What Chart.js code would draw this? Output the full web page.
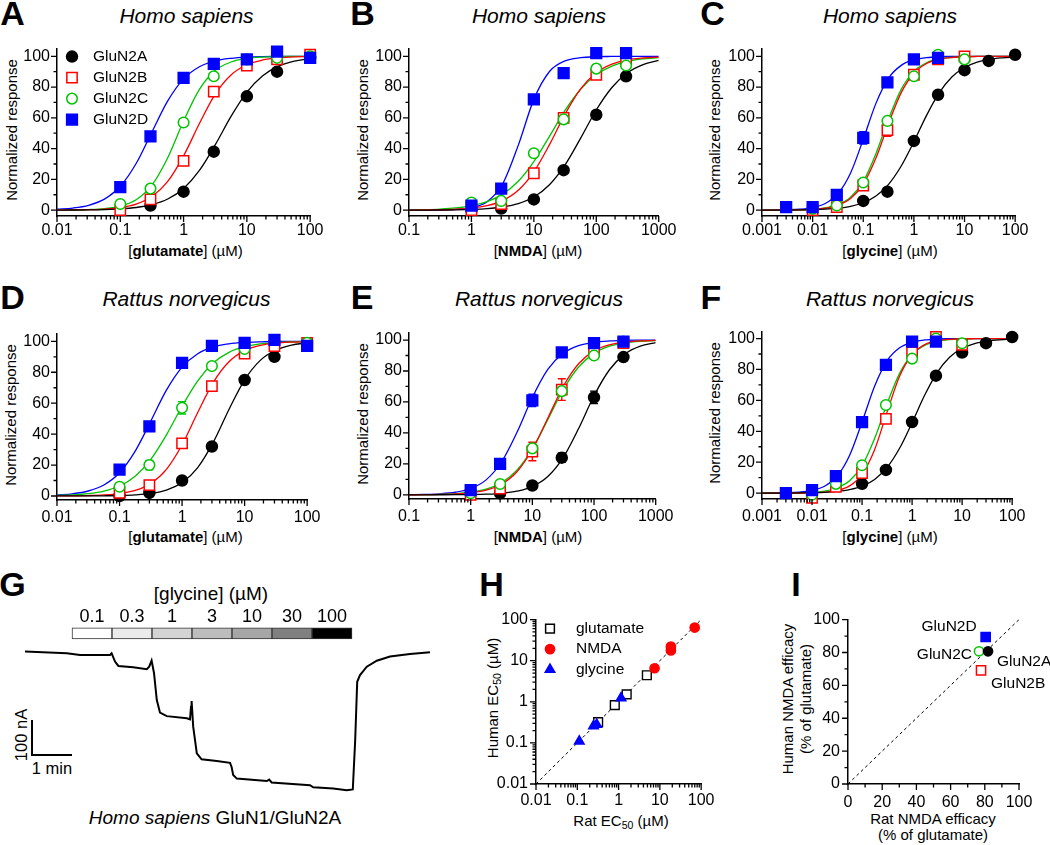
<!DOCTYPE html>
<html><head><meta charset="utf-8">
<script src="https://cdn.jsdelivr.net/npm/chart.js@4.4.1/dist/chart.umd.min.js"></script>
<style>
html,body{margin:0;padding:0;background:#fff;}
body{width:1050px;height:845px;position:relative;overflow:hidden;font-family:'Liberation Sans',Arial,Helvetica,sans-serif;color:#000;}
canvas{position:absolute;}
.t{position:absolute;white-space:nowrap;transform:translate(-50%,-50%);line-height:1;}
.r{transform:translate(-50%,-50%) rotate(-90deg);}
.L{font-weight:bold;font-size:34px;}
.sp{font-style:italic;font-size:21px;}
.ax{font-size:15px;}
sub{font-size:0.7em;vertical-align:-0.3em;line-height:0;}
</style></head><body>
<div class="t L" style="left:12.5px;top:13px">A</div>
<div class="t L" style="left:362.5px;top:13px">B</div>
<div class="t L" style="left:712.5px;top:13px">C</div>
<div class="t L" style="left:12.5px;top:297px">D</div>
<div class="t L" style="left:362px;top:297px">E</div>
<div class="t L" style="left:711px;top:297px">F</div>
<div class="t L" style="left:12.5px;top:584px">G</div>
<div class="t L" style="left:491.5px;top:584px">H</div>
<div class="t L" style="left:796px;top:584px">I</div>

<div class="t sp" style="left:186.5px;top:15px">Homo sapiens</div>
<div class="t sp" style="left:539px;top:15px">Homo sapiens</div>
<div class="t sp" style="left:890px;top:15px">Homo sapiens</div>
<div class="t sp" style="left:186.5px;top:298px">Rattus norvegicus</div>
<div class="t sp" style="left:539px;top:298px">Rattus norvegicus</div>
<div class="t sp" style="left:890px;top:298px">Rattus norvegicus</div>

<div class="t ax r" style="left:11px;top:130px">Normalized response</div>
<div class="t ax r" style="left:362px;top:130px">Normalized response</div>
<div class="t ax r" style="left:714px;top:130px">Normalized response</div>
<div class="t ax r" style="left:10px;top:415px">Normalized response</div>
<div class="t ax r" style="left:362px;top:414px">Normalized response</div>
<div class="t ax r" style="left:714px;top:413px">Normalized response</div>

<div class="t ax" style="left:185.5px;top:250px">[<b>glutamate</b>] (µM)</div>
<div class="t ax" style="left:538px;top:250px">[<b>NMDA</b>] (µM)</div>
<div class="t ax" style="left:890px;top:250px">[<b>glycine</b>] (µM)</div>
<div class="t ax" style="left:185.5px;top:536px">[<b>glutamate</b>] (µM)</div>
<div class="t ax" style="left:538px;top:536px">[<b>NMDA</b>] (µM)</div>
<div class="t ax" style="left:890px;top:536px">[<b>glycine</b>] (µM)</div>

<div class="t" style="left:211px;top:593px;font-size:19px">[glycine] (µM)</div>
<div class="t r" style="left:21px;top:735px;font-size:16.5px">100 nA</div>
<div class="t" style="left:52px;top:768px;font-size:16.5px">1 min</div>
<div class="t" style="left:215px;top:817px;font-size:19px"><i>Homo sapiens</i> GluN1/GluN2A</div>

<div class="t ax r" style="left:492px;top:698px">Human EC<sub>50</sub> (µM)</div>
<div class="t ax" style="left:621px;top:820px">Rat EC<sub>50</sub> (µM)</div>
<div class="t ax r" style="left:797px;top:699px;line-height:18px;text-align:center">Human NMDA efficacy<br>(% of glutamate)</div>
<div class="t ax" style="left:933px;top:827px;line-height:16px;text-align:center">Rat NMDA efficacy<br>(% of glutamate)</div>

<script>
// ================= DATA =================
const subunits = ['GluN2A','GluN2B','GluN2C','GluN2D'];

// tick values / labels
const decGluV = [0.01,0.1,1,10,100];      const decGluL = ['0.01','0.1','1','10','100'];
const decNmdaV = [0.1,1,10,100,1000];     const decNmdaL = ['0.1','1','10','100','1000'];
const decGlyV = [0.001,0.01,0.1,1,10,100];const decGlyL = ['0.001','0.01','0.1','1','10','100'];
const respV = [0,20,40,60,80,100];        const respL = ['0','20','40','60','80','100'];
const respMinor = [10,30,50,70,90];
const ecV = [0.01,0.1,1,10,100];          const ecL = ['0.01','0.1','1','10','100'];
const effV = [0,20,40,60,80,100];         const effL = ['0','20','40','60','80','100'];
const effMinor = [10,30,50,70,90];

// concentrations at which fitted curves were read (µM)
const gridGlu = [0.01,0.0178,0.0316,0.0562,0.1,0.178,0.316,0.562,1,1.78,3.16,5.62,10,17.8,31.6,56.2,100];
const gridNmda = [0.1,0.178,0.316,0.562,1,1.78,3.16,5.62,10,17.8,31.6,56.2,100,178,316,562,1000];
const gridGly = [0.001,0.00178,0.00316,0.00562,0.01,0.0178,0.0316,0.0562,0.1,0.178,0.316,0.562,1,1.78,3.16,5.62,10,17.8,31.6,56.2,100];

// ---- Panel A: human, glutamate ----
const aX2A=[0.3,1,3,10,30,100];          const aY2A=[3,12,38,74,90,99];
const aX2B=[0.1,0.3,1,3,10,30,100];      const aY2B=[0,7,32,77,94,98,101];
const aX2C=[0.1,0.3,1,3,10,30,100];      const aY2C=[4,14,57,87,98,99,100];
const aX2D=[0.1,0.3,1,3,10,30,100];      const aY2D=[15,48,86,95,98,103,99];
const aFit2A=[0.04,0.09,0.18,0.39,0.82,1.72,3.56,7.24,14.1,25.8,42.4,60.9,76.7,87.4,93.6,96.9,98.5];
const aFit2B=[0.05,0.13,0.31,0.72,1.69,3.92,8.83,18.7,35.3,56.3,75.4,87.9,94.5,97.6,99.0,99.6,99.8];
const aFit2C=[0.05,0.15,0.39,1.02,2.67,6.8,16.3,34.1,57.9,78.5,90.7,96.3,98.6,99.5,99.8,99.9,100];
const aFit2D=[0.58,1.36,3.16,7.17,15.5,30.3,50.8,71.0,85.3,93.2,97.0,98.7,99.5,99.8,99.9,100,100];

// ---- Panel B: human, NMDA ----
const bX=[1,3,10,30,100,300];
const bY2A=[0,1,7,26,62,87];
const bY2B=[0,4,24,60,88,97];
const bY2C=[5,6,37,59,92,94];
const bY2D=[3,14,72,89,102,102];
const bFit2A=[0.02,0.05,0.10,0.22,0.47,0.98,2.05,4.23,8.54,16.5,29.4,46.8,65.1,79.7,89.3,94.6,97.4];
const bFit2B=[0.05,0.12,0.26,0.59,1.30,2.87,6.21,12.9,24.9,42.6,62.4,78.8,89.3,94.9,97.7,98.9,99.5];
const bFit2C=[0.18,0.37,0.73,1.44,2.84,5.50,10.4,18.8,31.6,48.0,64.8,78.6,88.0,93.6,96.7,98.3,99.1];
const bFit2D=[0.01,0.04,0.13,0.46,1.60,5.46,17.0,42.1,72.0,90.1,97.0,99.1,99.75,99.9,100,100,100];

// ---- Panel C: human, glycine ----
const cX2A=[0.1,0.3,1,3,10,30,100];      const cY2A=[6,12,45,75,91,97,101];
const cX2B=[0.01,0.03,0.1,0.3,1,3,10];   const cY2B=[0,2,16,52,88,98,100]; const cE2B=[0,0,0,4,0,0,0];
const cX2C=[0.01,0.03,0.1,0.3,1,3,10];   const cY2C=[1,3,18,58,87,101,98];
const cX2D=[0.003,0.01,0.03,0.1,0.3,1,3];const cY2D=[2,2,10,47,83,98,99];  const cE2D=[0,0,0,4,0,0,0];
const cFit2A=[0.02,0.04,0.08,0.16,0.32,0.63,1.26,2.48,4.82,9.19,16.8,28.7,44.5,61.6,76.2,86.5,92.7,96.2,98.1,99.0,99.5];
const cFit2B=[0.01,0.03,0.08,0.20,0.51,1.27,3.13,7.52,16.9,33.9,56.3,76.4,89.0,95.3,98.1,99.2,99.7,99.9,100,100,100];
const cFit2C=[0.01,0.04,0.09,0.23,0.58,1.43,3.53,8.41,18.7,36.7,59.3,78.5,90.2,95.8,98.3,99.3,99.7,99.9,100,100,100];
const cFit2D=[0.03,0.09,0.24,0.63,1.67,4.32,10.7,24.2,46.0,69.4,85.8,94.1,97.7,99.1,99.7,99.9,100,100,100,100,100];

// ---- Panel D: rat, glutamate ----
const dX2A=[0.1,0.3,1,3,10,30];          const dY2A=[0,2,10,32,75,90];
const dX2B=[0.1,0.3,1,3,10,30,100];      const dY2B=[2,7,34,71,92,97,99];
const dX2C=[0.1,0.3,1,3,10,100];         const dY2C=[6,20,57,84,95,99]; const dE2C=[0,3,4,0,0,0];
const dX2D=[0.1,0.3,1,3,10,30,100];      const dY2D=[17,45,86,97,99,101,97];
const dFit2A=[0.01,0.02,0.05,0.13,0.30,0.71,1.66,3.85,8.68,18.4,34.8,55.9,75.1,87.7,94.4,97.6,99.0];
const dFit2B=[0.05,0.12,0.28,0.65,1.54,3.57,8.08,17.2,33.1,54.0,73.5,86.8,94.0,97.4,98.9,99.5,99.8];
const dFit2C=[0.35,0.73,1.53,3.17,6.47,12.8,23.6,39.5,58.0,74.5,86.1,92.9,96.5,98.3,99.2,99.6,99.8];
const dFit2D=[0.62,1.42,3.22,7.12,15.0,29.0,48.4,68.4,83.3,92.0,96.4,98.4,99.3,99.7,99.9,100,100];

// ---- Panel E: rat, NMDA ----
const eX2A=[3,10,30,100,300];            const eY2A=[1,6,24,63,89]; const eE2A=[0,0,3,4,0];
const eX=[1,3,10,30,100,300];
const eY2B=[0,4,28,68,93,98];            const eE2B=[0,0,6,7,3,0];
const eY2C=[1,7,30,67,90,99];
const eY2D=[3,20,61,92,98,99];           const eE2D=[0,0,4,0,0,0];
const eFit2A=[0.0,0.01,0.03,0.07,0.18,0.42,0.99,2.32,5.32,11.8,24.0,42.8,64.0,80.8,90.9,96.0,98.3];
const eFit2B=[0.04,0.10,0.23,0.55,1.29,3.01,6.86,14.9,29.3,49.5,70.0,84.7,93.0,96.9,98.7,99.4,99.8];
const eFit2C=[0.07,0.15,0.34,0.75,1.65,3.63,7.77,15.9,29.7,48.6,67.9,82.6,91.4,96.0,98.2,99.2,99.6];
const eFit2D=[0.11,0.27,0.67,1.67,4.08,9.66,21.2,40.3,62.9,81.0,91.4,96.4,98.5,99.4,99.8,99.9,100];

// ---- Panel F: rat, glycine ----
const fX2A=[0.1,0.3,1,3,10,30,100];      const fY2A=[6,15,46,76,91,97,101];
const fX=[0.01,0.03,0.1,0.3,1,3,10];
const fY2B=[-3,4,13,48,91,101,96];
const fY2C=[-1,6,18,57,87,100,97];
const fX2D=[0.003,0.01,0.03,0.1,0.3,1,3];const fY2D=[0,2,11,46,83,98,98];
const fFit2A=[0.01,0.03,0.06,0.13,0.27,0.54,1.11,2.25,4.51,8.83,16.6,29.0,45.6,63.3,78.0,87.9,93.7,96.8,98.4,99.2,99.6];
const fFit2B=[0.0,0.01,0.03,0.08,0.22,0.61,1.71,4.68,12.2,28.1,52.4,75.6,89.7,96.1,98.6,99.5,99.8,99.9,100,100,100];
const fFit2C=[0.01,0.03,0.09,0.22,0.54,1.35,3.32,7.94,17.8,35.3,57.8,77.5,89.6,95.6,98.2,99.3,99.7,99.9,100,100,100];
const fFit2D=[0.03,0.10,0.26,0.68,1.75,4.45,10.9,24.4,46.0,69.2,85.6,94.0,97.6,99.1,99.7,99.9,100,100,100,100,100];

// ---- Panel G: current trace (time in min, current in nA) ----
const traceT=[-1.175,-0.13,0.2,0.95,0.99,1.075,1.16,1.53,1.87,1.93,1.99,2.05,2.12,2.2,2.37,2.87,2.95,2.975,2.99,3.03,3.12,3.24,3.62,3.95,3.99,4.03,4.12,4.87,4.93,4.99,5.95,6.03,6.53,6.87,7.02,7.08,7.13,7.2,7.37,7.62,7.95,8.45,8.95];
const traceI=[-2,-6.6,-11.4,-11.4,-6.6,-30.6,-42.9,-46.6,-52.3,-44.9,-27.7,-62.9,-140,-176,-186,-192,-195,-159,-143,-216,-292,-309,-314,-319,-331,-354,-364,-371,-367,-375,-383,-389,-392,-397,-395,-254,-88,-69,-45,-28,-16,-9,-4];
const glyConc=['0.1','0.3','1','3','10','30','100'];   // µM
const glyStart=[0,1,2,3,4,5,6];                          // application start, min
const glyShade=['#ffffff','#ebebeb','#d4d4d4','#bdbdbd','#a6a6a6','#808080','#000000'];
const scaleBarT=[-1,-1,0];          // 1 min
const scaleBarI=[-197,-297,-297];   // 100 nA

// ---- Panel H: EC50 rat vs human (µM) ----
const hGluRat=[0.32,0.81,1.57,4.84];   const hGluHum=[0.32,0.83,1.52,4.43];
const hNmdaRat=[7.45,18.5,18.5,69.8];  const hNmdaHum=[6.55,22,17.8,64];
const hGlyRat=[0.112,0.247,0.296,1.15];const hGlyHum=[0.109,0.256,0.28,1.23];
const hIdentity=[0.01,100];

// ---- Panel I: NMDA efficacy (% of glutamate), order 2A,2B,2C,2D ----
const iRat=[81.9,77.8,76.6,80.5];
const iHum=[80.7,69.1,80.7,89.4];
const iIdentity=[0,100];

// ================= DRAWING =================
Chart.defaults.font.family = "'Liberation Sans', Arial, sans-serif";
Chart.defaults.color = '#000';
Chart.defaults.animation = false;
Chart.defaults.events = [];
Chart.defaults.plugins.legend.display = false;
Chart.defaults.plugins.tooltip.enabled = false;

const COL=['#000000','#ff0000','#00c400','#0000ff'];
const MK=[{ps:'circle',r:5.5,fill:true},{ps:'rect',r:7.3,fill:false},{ps:'circle',r:5.3,fill:false},{ps:'rect',r:7.6,fill:true}];
const FONT='"Liberation Sans", Arial, sans-serif';
const TICKFONT=16;

function mkCanvas(area,yW,xH,padT,padR){
  const c=document.createElement('canvas');
  const W=Math.round(area.w+yW+padR), H=Math.round(area.h+padT+xH);
  c.width=W; c.height=H;
  c.style.left=(area.x-yW)+'px'; c.style.top=(area.y-padT)+'px';
  c.style.width=W+'px'; c.style.height=H+'px';
  document.body.appendChild(c);
  return c;
}
function logMinor(vals){const out=[];for(let i=0;i<vals.length-1;i++){for(let m=2;m<=9;m++)out.push(vals[i]*m);}return out;}
function axis(type,min,max,vals,labels,isX,size,pad){
  return {type,min,max,bounds:'data',offset:false,
    afterBuildTicks:s=>{s.ticks=vals.map(v=>({value:v}));},
    afterFit:s=>{if(isX)s.height=size;else s.width=size;},
    grid:{display:false,drawTicks:false},
    border:{display:true,color:'#000',width:1.5},
    ticks:{autoSkip:false,maxRotation:0,minRotation:0,padding:pad,color:'#000',font:{size:TICKFONT},callback:(v,i)=>labels[i]}};
}
function tickMarks(xMaj,xMin,yMaj,yMin){
  return {id:'tm',afterDraw(chart){
    const ctx=chart.ctx,a=chart.chartArea,sx=chart.scales.x,sy=chart.scales.y;
    ctx.save();ctx.strokeStyle='#000';ctx.lineWidth=1.3;ctx.beginPath();
    const X=(v,l)=>{const p=sx.getPixelForValue(v);ctx.moveTo(p,a.bottom);ctx.lineTo(p,a.bottom+l);};
    const Y=(v,l)=>{const p=sy.getPixelForValue(v);ctx.moveTo(a.left,p);ctx.lineTo(a.left-l,p);};
    xMaj.forEach(v=>X(v,6));xMin.forEach(v=>X(v,3.5));yMaj.forEach(v=>Y(v,6));yMin.forEach(v=>Y(v,3.5));
    ctx.stroke();ctx.restore();}};
}
const errBars={id:'eb',beforeDatasetsDraw(chart){
  const ctx=chart.ctx,sx=chart.scales.x,sy=chart.scales.y;
  chart.data.datasets.forEach(ds=>{if(!ds.errs)return;
    ctx.save();ctx.strokeStyle=ds.pointBorderColor;ctx.lineWidth=1.4;ctx.beginPath();
    ds.data.forEach((p,i)=>{const e=ds.errs[i];if(!e)return;
      const px=sx.getPixelForValue(p.x),y1=sy.getPixelForValue(p.y+e),y2=sy.getPixelForValue(p.y-e);
      ctx.moveTo(px,y1);ctx.lineTo(px,y2);ctx.moveTo(px-4,y1);ctx.lineTo(px+4,y1);ctx.moveTo(px-4,y2);ctx.lineTo(px+4,y2);});
    ctx.stroke();ctx.restore();});
}};
function marker(ctx,ps,x,y,r,color,fill,bw){
  ctx.save();ctx.beginPath();
  if(ps==='circle')ctx.arc(x,y,r,0,Math.PI*2);
  else if(ps==='rect'){const s=r*Math.SQRT1_2;ctx.rect(x-s,y-s,2*s,2*s);}
  else {for(let k=0;k<3;k++){const an=k*2*Math.PI/3;const px=x+Math.sin(an)*r,py=y-Math.cos(an)*r;if(k)ctx.lineTo(px,py);else ctx.moveTo(px,py);}ctx.closePath();}
  ctx.fillStyle=fill?color:'#fff';ctx.fill();ctx.lineWidth=bw;ctx.strokeStyle=color;ctx.stroke();ctx.restore();
}
function legendPlug(items,dx,dy,step,tx){
  return {id:'lg',afterDraw(chart){const ctx=chart.ctx,a=chart.chartArea;
    items.forEach((it,i)=>{const y=a.top+dy+i*step;marker(ctx,it.ps,a.left+dx,y,it.r,it.c,it.fill,1.5);
      ctx.save();ctx.fillStyle='#000';ctx.font='15.5px '+FONT;ctx.textBaseline='middle';ctx.textAlign='left';ctx.fillText(it.label,a.left+tx,y);ctx.restore();});}};
}
function ptsDs(xs,ys,extra){return Object.assign({data:xs.map((v,k)=>({x:v,y:ys[k]})),showLine:false,clip:false,pointBorderWidth:1.5},extra);}

function dosePanel(area,yMin,yMax,xVals,xLabels,grid,fits,pts,xPad,legend){
  const cv=mkCanvas(area,57,30,12,14);
  const ds=[];
  fits.forEach((f,i)=>ds.push({data:grid.map((g,k)=>({x:g,y:f[k]})),borderColor:COL[i],borderWidth:1.3,pointRadius:0,cubicInterpolationMode:'monotone',fill:false,order:20+i}));
  pts.forEach((p,i)=>ds.push(ptsDs(p.x,p.y,{errs:p.e||null,pointStyle:MK[i].ps,pointRadius:MK[i].r,pointBorderColor:COL[i],pointBackgroundColor:MK[i].fill?COL[i]:'#ffffff',order:10-i})));
  const plugs=[errBars,tickMarks(xVals,logMinor(xVals),respV,respMinor)];
  if(legend)plugs.push(legend);
  new Chart(cv,{type:'line',data:{datasets:ds},options:{responsive:false,layout:{padding:{top:12,right:14,left:0,bottom:0}},
    scales:{x:axis('logarithmic',xVals[0],xVals[xVals.length-1],xVals,xLabels,true,30,xPad),
            y:axis('linear',yMin,yMax,respV,respL,false,57,7)}},plugins:plugs});
}

const legA=legendPlug(subunits.map((s,i)=>({label:s,ps:MK[i].ps,r:MK[i].r,c:COL[i],fill:MK[i].fill})),15,8,21,36);

dosePanel({x:57,y:44,w:257,h:172},-3.8,105,decGluV,decGluL,gridGlu,[aFit2A,aFit2B,aFit2C,aFit2D],
  [{x:aX2A,y:aY2A},{x:aX2B,y:aY2B},{x:aX2C,y:aY2C},{x:aX2D,y:aY2D}],4.5,legA);
dosePanel({x:409,y:44,w:258,h:172},-3.8,105,decNmdaV,decNmdaL,gridNmda,[bFit2A,bFit2B,bFit2C,bFit2D],
  [{x:bX,y:bY2A},{x:bX,y:bY2B},{x:bX,y:bY2C},{x:bX,y:bY2D}],4.5,null);
dosePanel({x:762,y:44,w:257,h:172},-3.8,105,decGlyV,decGlyL,gridGly,[cFit2A,cFit2B,cFit2C,cFit2D],
  [{x:cX2A,y:cY2A},{x:cX2B,y:cY2B,e:cE2B},{x:cX2C,y:cY2C},{x:cX2D,y:cY2D,e:cE2D}],4.5,null);
dosePanel({x:57,y:329,w:257,h:171},-2.6,105,decGluV,decGluL,gridGlu,[dFit2A,dFit2B,dFit2C,dFit2D],
  [{x:dX2A,y:dY2A},{x:dX2B,y:dY2B},{x:dX2C,y:dY2C,e:dE2C},{x:dX2D,y:dY2D}],7.5,null);
dosePanel({x:409,y:328,w:258,h:171},-2.7,104.8,decNmdaV,decNmdaL,gridNmda,[eFit2A,eFit2B,eFit2C,eFit2D],
  [{x:eX2A,y:eY2A,e:eE2A},{x:eX,y:eY2B,e:eE2B},{x:eX,y:eY2C},{x:eX,y:eY2D,e:eE2D}],7.5,null);
dosePanel({x:762,y:327,w:257,h:172},-3.8,104.5,decGlyV,decGlyL,gridGly,[fFit2A,fFit2B,fFit2C,fFit2D],
  [{x:fX2A,y:fY2A},{x:fX,y:fY2B},{x:fX,y:fY2C},{x:fX2D,y:fY2D}],7.5,null);

// ---- G ----
const barBand=[34,66]; // vertical placement of the application bar (layout, nA units)
const gc=mkCanvas({x:24,y:600,w:408,h:200},0,0,0,0);
new Chart(gc,{type:'line',data:{datasets:[
  {type:'bar',data:glyStart.map(s=>({x:s+0.5,y:barBand})),backgroundColor:glyShade,borderColor:'#333333',borderWidth:1,borderSkipped:false,barPercentage:1,categoryPercentage:1,order:3},
  {data:traceT.map((t,i)=>({x:t,y:traceI[i]})),borderColor:'#000',borderWidth:2,pointRadius:0,tension:0,order:1},
  {data:scaleBarT.map((t,i)=>({x:t,y:scaleBarI[i]})),borderColor:'#000',borderWidth:2,pointRadius:0,tension:0,order:2}
]},options:{responsive:false,layout:{padding:0},
  scales:{x:{type:'linear',min:-1.2,max:9,offset:false,grid:{offset:false},display:false},y:{type:'linear',min:-425,max:145,display:false}}},
  plugins:[{id:'barlab',afterDatasetsDraw(chart){const ctx=chart.ctx;const meta=chart.getDatasetMeta(0);
    ctx.save();ctx.fillStyle='#000';ctx.font='18px '+FONT;ctx.textAlign='center';ctx.textBaseline='middle';
    meta.data.forEach((el,i)=>ctx.fillText(glyConc[i],el.x,el.y-11));ctx.restore();}}]});

// ---- H ----
const hc=mkCanvas({x:536,y:612,w:171,h:172},60,30,10,14);
new Chart(hc,{type:'line',data:{datasets:[
  {data:hIdentity.map(v=>({x:v,y:v})),borderColor:'#000',borderWidth:1,borderDash:[3,3],pointRadius:0,order:20},
  ptsDs(hGluRat,hGluHum,{pointStyle:'rect',pointRadius:6.2,pointBorderWidth:1.4,pointBorderColor:'#000',pointBackgroundColor:'#fff',order:3}),
  ptsDs(hNmdaRat,hNmdaHum,{pointStyle:'circle',pointRadius:4.6,pointBorderColor:'#ff0000',pointBackgroundColor:'#ff0000',order:2}),
  ptsDs(hGlyRat,hGlyHum,{pointStyle:'triangle',pointRadius:5.5,pointBorderColor:'#0000ff',pointBackgroundColor:'#0000ff',order:1})
]},options:{responsive:false,layout:{padding:{top:10,right:14,left:0,bottom:0}},
  scales:{x:axis('logarithmic',0.01,100,ecV,ecL,true,30,6.5),y:axis('logarithmic',0.01,100,ecV,ecL,false,60,8)}},
  plugins:[tickMarks(ecV,logMinor(ecV),ecV,logMinor(ecV)),
    legendPlug([{label:'glutamate',ps:'rect',r:6.2,c:'#000',fill:false},{label:'NMDA',ps:'circle',r:4.6,c:'#ff0000',fill:true},{label:'glycine',ps:'triangle',r:5.5,c:'#0000ff',fill:true}],14,9,20.5,40)]});

// ---- I ----
const IMK=[{ps:'circle',r:4.6,fill:true},{ps:'rect',r:6.5,fill:false},{ps:'circle',r:4.6,fill:false},{ps:'rect',r:6.5,fill:true}];
const iLab=[{dx:9,dy:10,al:'left'},{dx:10,dy:13,al:'left'},{dx:-7,dy:3,al:'right'},{dx:-9,dy:-10,al:'right'}];
const ic=mkCanvas({x:848,y:612,w:171,h:172},60,30,10,40);
const iDs=[{data:iIdentity.map(v=>({x:v,y:v})),borderColor:'#000',borderWidth:1,borderDash:[3,3],pointRadius:0,order:20}];
subunits.forEach((s,i)=>iDs.push(ptsDs([iRat[i]],[iHum[i]],{pointStyle:IMK[i].ps,pointRadius:IMK[i].r,pointBorderColor:COL[i],pointBackgroundColor:IMK[i].fill?COL[i]:'#fff',order:i===0?0:5-i})));
new Chart(ic,{type:'line',data:{datasets:iDs},options:{responsive:false,layout:{padding:{top:10,right:40,left:0,bottom:0}},
  scales:{x:axis('linear',0,100,effV,effL,true,30,8.5),y:axis('linear',0,100,effV,effL,false,60,8)}},
  plugins:[tickMarks(effV,effMinor,effV,effMinor),{id:'ilab',afterDraw(chart){const ctx=chart.ctx;
    ctx.save();ctx.fillStyle='#000';ctx.font='15.5px '+FONT;ctx.textBaseline='middle';
    subunits.forEach((s,i)=>{const el=chart.getDatasetMeta(i+1).data[0];ctx.textAlign=iLab[i].al;ctx.fillText(s,el.x+iLab[i].dx,el.y+iLab[i].dy);});
    ctx.restore();}}]});
</script>
</body></html>
